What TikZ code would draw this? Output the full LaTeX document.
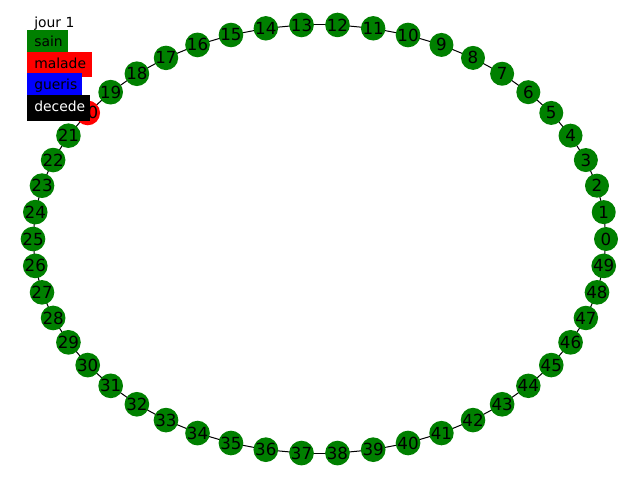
\documentclass[tikz,border=0pt]{standalone}
\usepackage{fontspec}
\setmainfont{DejaVu Sans}
\usetikzlibrary{backgrounds}
\definecolor{ngreen}{HTML}{008000}
\definecolor{nred}{HTML}{FF0000}
\definecolor{nblue}{HTML}{0000FF}
\tikzset{
  vertex/.style={circle, fill=ngreen, draw=none, minimum size=24*0.72pt, inner sep=0pt,
    font=\fontsize{12}{14}\selectfont, text=black},
  sick/.style={fill=nred},
  edge/.style={draw=black, line width=0.72pt},
  legtext/.style={anchor=base west, inner sep=0pt, font=\fontsize{10}{12}\selectfont}
}
\begin{document}
\begin{tikzpicture}[x=0.72pt, y=-0.72pt]
\useasboundingbox (0,0) rectangle (640,480);
% nodes on ellipse
\foreach \i in {0,...,49} {
  \pgfmathsetmacro{\px}{319.5+286.5*cos(7.2*\i)}
  \pgfmathsetmacro{\py}{239-214.5*sin(7.2*\i)}
  \ifnum\i=20
    \node[vertex, sick] (n\i) at (\px,\py) {\i};
  \else
    \node[vertex] (n\i) at (\px,\py) {\i};
  \fi
}
% edges of the ring
\begin{scope}[on background layer]
\foreach \i in {0,...,49} {
  \pgfmathtruncatemacro{\j}{mod(\i+1,50)}
  \draw[edge] (n\i.center) -- (n\j.center);
}
\end{scope}
% legend
\node[legtext] (title) at (34,27) {jour 1};
\fill[ngreen] (27,30) rectangle (68,52);
\node[legtext] (lsain) at (34,46) {sain};
\fill[nred] (27,52) rectangle (92,77);
\node[legtext] (lmalade) at (34,68) {malade};
\fill[nblue] (27,73) rectangle (82,97);
\node[legtext] (lgueris) at (34,89) {gueris};
\fill[black] (27,95) rectangle (90,121);
\node[legtext, text=white] (ldecede) at (34,111) {decede};
\end{tikzpicture}
\end{document}
